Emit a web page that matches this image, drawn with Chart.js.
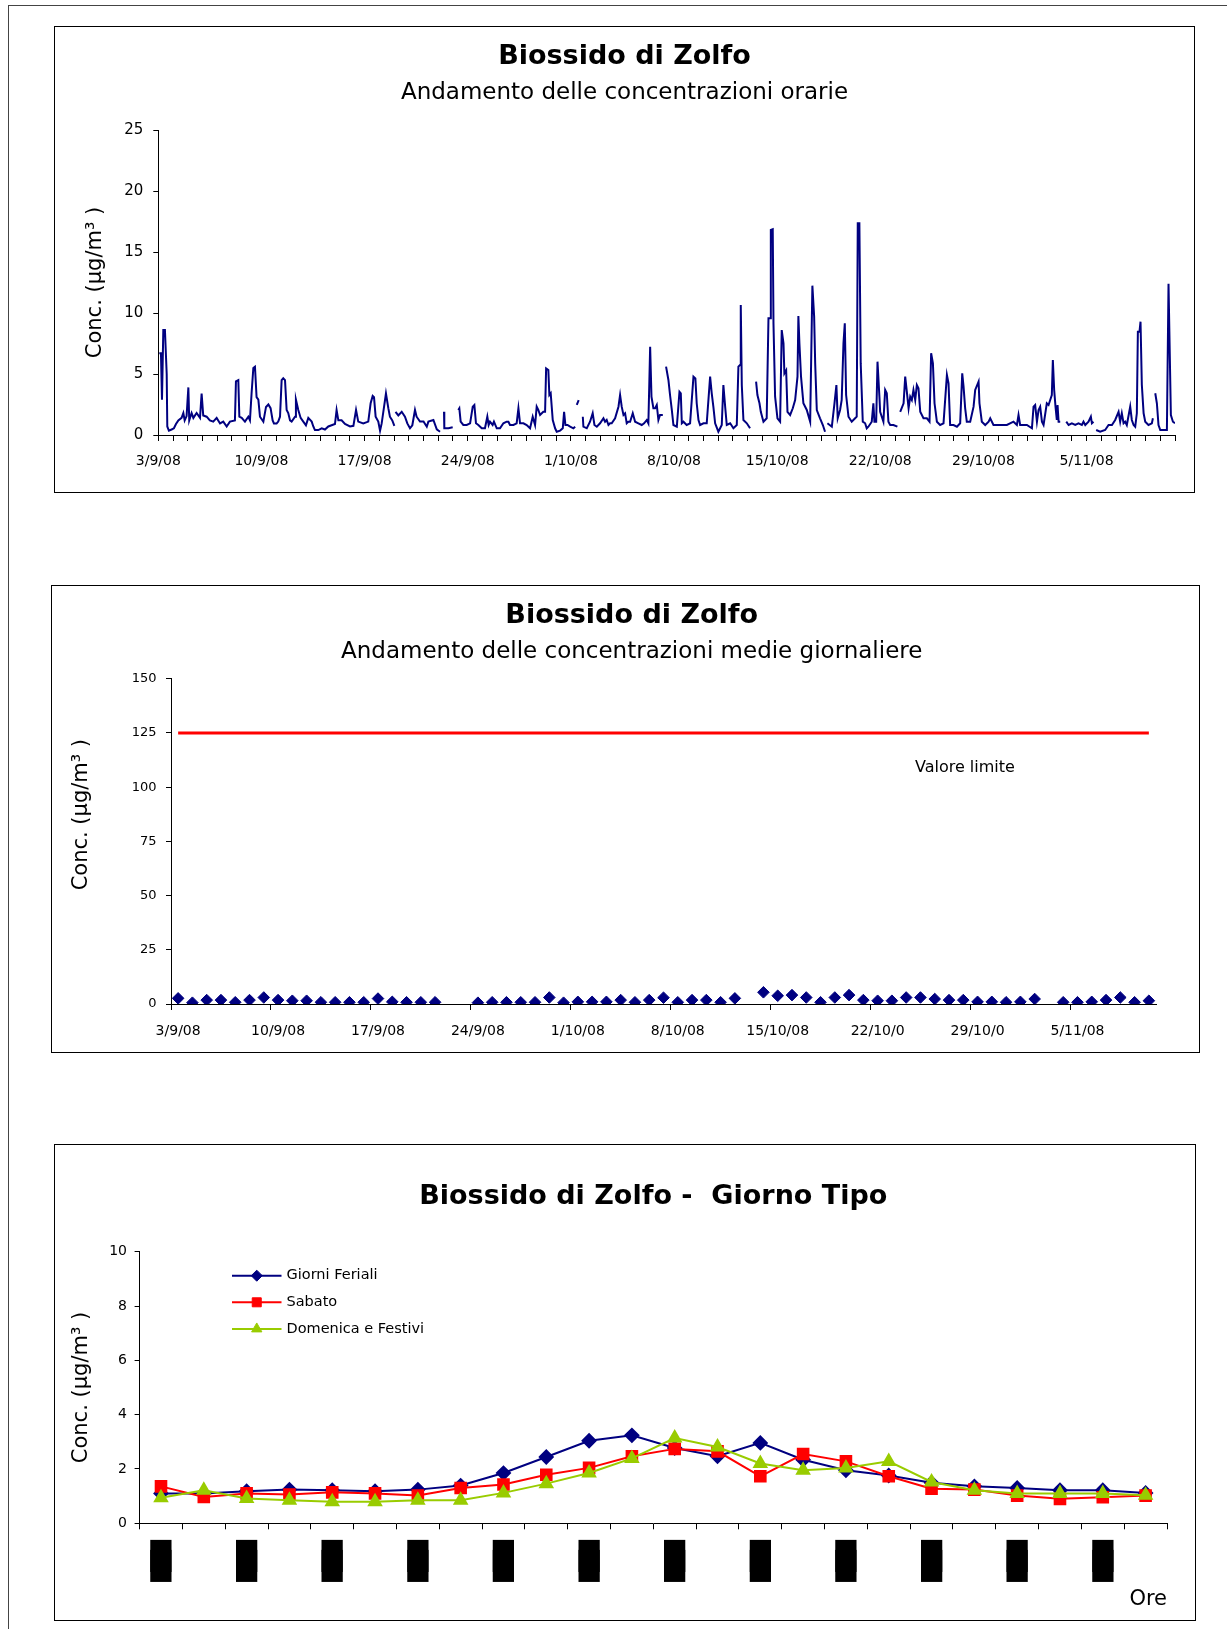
<!DOCTYPE html>
<html>
<head>
<meta charset="utf-8">
<script src="https://cdn.jsdelivr.net/npm/chart.js@4/dist/chart.umd.min.js"></script>
<style>
  html, body { margin: 0; padding: 0; background: #fff; }
  body { width: 1227px; height: 1629px; position: relative; overflow: hidden; }
  .pagina { position: absolute; left: 8px; top: 5px; width: 1240px; height: 1640px;
            border-left: 1px solid #444; border-top: 1px solid #444; }
  .riquadro { position: absolute; border: 1px solid #000; box-sizing: border-box; background: #fff; }
  .riquadro canvas { position: absolute; left: 0; top: 0; }
</style>
</head>
<body>
<div class="pagina"></div>
<div class="riquadro" style="left:54px; top:26px; width:1141px; height:467px;">
  <canvas id="orarie" width="1139" height="465"></canvas>
</div>
<div class="riquadro" style="left:51px; top:585px; width:1149px; height:468px;">
  <canvas id="giornaliere" width="1147" height="466"></canvas>
</div>
<div class="riquadro" style="left:54px; top:1144px; width:1142px; height:477px;">
  <canvas id="giornoTipo" width="1140" height="475"></canvas>
</div>

<script>
// ---------- Dati ----------

// Concentrazioni orarie SO2: [giorni trascorsi dal 3/9/08 00:00, µg/m³]; null = dato mancante
const misureOrarie = [
  [0.07,6.7],[0.18,6.7],[0.25,2.9],[0.34,8.6],[0.45,8.6],[0.57,5.0],[0.61,0.7],[0.72,0.35],[0.9,0.45],[1.06,0.55],
  [1.2,0.9],[1.36,1.2],[1.58,1.4],[1.7,1.8],[1.79,1.2],[1.92,1.55],[2.04,3.9],[2.1,1.2],[2.26,1.8],[2.38,1.4],
  [2.6,1.8],[2.83,1.4],[2.94,3.4],[3.05,1.6],[3.28,1.5],[3.5,1.2],[3.73,1.1],[3.96,1.4],[4.19,0.95],[4.41,1.1],
  [4.64,0.7],[4.86,1.1],[5.2,1.2],[5.27,4.4],[5.43,4.5],[5.5,1.5],[5.66,1.4],[5.88,1.1],[6.11,1.5],[6.22,1.2],
  [6.33,3.4],[6.45,5.5],[6.56,5.6],[6.67,3.1],[6.79,2.9],[6.9,1.5],[7.13,1.1],[7.31,2.3],[7.47,2.5],[7.62,2.2],
  [7.76,1.2],[7.85,0.95],[8.03,0.95],[8.14,1.1],[8.26,1.5],[8.37,4.5],[8.48,4.65],[8.6,4.5],[8.71,2.05],[8.82,1.8],
  [8.94,1.2],[9.05,1.1],[9.28,1.5],[9.34,2.9],[9.5,2.05],[9.66,1.4],[9.84,1.1],[10.02,0.8],[10.18,1.4],[10.41,1.1],
  [10.52,0.7],[10.63,0.4],[10.86,0.4],[11.09,0.55],[11.31,0.45],[11.54,0.7],[11.76,0.8],[11.99,0.9],[12.1,2.05],[12.22,1.2],
  [12.44,1.2],[12.67,0.9],[13.01,0.7],[13.24,0.75],[13.42,2.05],[13.57,1.1],[13.91,0.95],[14.25,1.1],[14.41,2.6],[14.55,3.2],
  [14.64,3.1],[14.75,1.5],[14.93,1.1],[15.05,0.35],[15.16,0.95],[15.32,2.3],[15.45,3.4],[15.61,2.2],[15.72,1.5],[15.88,1.2],
  [16.02,0.75],[16.06,null],[16.1,1.9],[16.29,1.6],[16.52,1.9],[16.74,1.5],[16.9,0.95],[17.08,0.55],[17.24,0.8],[17.42,2.05],
  [17.53,1.5],[17.76,1.1],[18.0,1.1],[18.22,0.68],[18.33,1.1],[18.67,1.23],[18.9,0.46],[19.12,0.27],[19.25,null],[19.39,1.9],
  [19.41,0.55],[19.69,0.55],[19.98,0.63],[20.2,null],[20.36,2.05],[20.43,2.19],[20.52,1.09],[20.7,0.82],[20.93,0.82],[21.16,0.96],
  [21.34,2.32],[21.45,2.46],[21.56,0.96],[21.72,0.82],[21.95,0.55],[22.17,0.55],[22.33,1.5],[22.42,0.82],[22.51,1.09],[22.69,0.82],
  [22.78,1.09],[22.97,0.55],[23.19,0.55],[23.42,0.96],[23.64,1.09],[23.76,1.09],[23.87,0.82],[24.1,0.82],[24.32,0.96],[24.44,2.19],
  [24.55,0.96],[24.78,0.96],[25.0,0.82],[25.23,0.55],[25.41,1.5],[25.57,0.82],[25.68,2.32],[25.79,2.05],[25.91,1.64],[26.13,1.9],
  [26.25,1.9],[26.32,5.46],[26.47,5.33],[26.54,3.28],[26.63,3.42],[26.77,1.23],[26.93,0.55],[27.04,0.27],[27.27,0.36],[27.45,0.55],
  [27.54,1.9],[27.63,0.82],[27.77,0.82],[27.95,0.68],[28.17,0.55],[28.29,0.68],[28.34,null],[28.4,2.46],[28.53,2.85],[28.65,null],
  [28.81,1.5],[28.85,0.68],[29.08,0.55],[29.3,1.09],[29.48,1.78],[29.6,0.82],[29.76,0.68],[29.98,0.96],[30.21,1.37],[30.32,1.09],
  [30.43,1.23],[30.55,0.82],[30.66,0.96],[30.77,0.96],[31.0,1.37],[31.23,2.32],[31.34,3.28],[31.45,2.32],[31.57,1.64],[31.68,1.78],
  [31.79,0.96],[31.9,1.09],[32.02,1.09],[32.2,1.78],[32.36,1.09],[32.58,0.96],[32.81,0.82],[32.97,0.96],[33.15,1.23],[33.26,0.96],
  [33.38,7.24],[33.47,3.14],[33.6,2.19],[33.72,2.19],[33.83,2.46],[33.94,1.23],[34.05,1.64],[34.24,1.64],[34.35,null],[34.46,5.6],
  [34.62,4.51],[34.73,3.28],[34.85,2.05],[34.96,0.82],[35.19,0.68],[35.37,3.55],[35.46,3.42],[35.53,0.96],[35.64,1.09],[35.86,0.82],
  [36.09,0.96],[36.32,4.78],[36.45,4.64],[36.54,2.6],[36.66,1.23],[36.77,0.82],[37.0,0.96],[37.22,0.96],[37.45,4.78],[37.56,3.42],
  [37.67,2.32],[37.79,0.96],[38.01,0.27],[38.24,0.82],[38.35,4.1],[38.47,2.32],[38.58,0.82],[38.81,0.96],[39.03,0.55],[39.26,0.82],
  [39.37,5.6],[39.48,5.74],[39.53,10.66],[39.6,4.1],[39.71,1.23],[39.94,0.96],[40.16,0.55],[40.35,null],[40.57,4.37],[40.66,3.28],
  [40.8,2.6],[40.89,1.9],[41.07,1.09],[41.29,1.37],[41.41,9.56],[41.52,9.56],[41.57,16.8],[41.7,16.86],[41.75,9.15],[41.86,3.14],
  [42.02,1.37],[42.2,1.09],[42.31,8.6],[42.43,7.51],[42.49,5.05],[42.61,5.3],[42.7,1.9],[42.88,1.64],[43.06,2.19],[43.22,2.87],
  [43.38,4.78],[43.44,9.75],[43.51,7.51],[43.62,4.78],[43.78,2.6],[44.01,2.05],[44.24,1.09],[44.39,12.24],[44.51,9.7],[44.58,5.87],
  [44.69,2.05],[44.91,1.37],[45.1,0.82],[45.25,0.27],[45.33,null],[45.41,0.96],[45.71,0.68],[45.89,2.6],[46.02,4.1],[46.11,1.37],
  [46.27,2.05],[46.38,2.87],[46.5,7.51],[46.59,9.15],[46.68,3.28],[46.84,1.5],[47.06,1.09],[47.29,1.37],[47.4,1.5],[47.47,17.35],
  [47.58,17.35],[47.67,5.87],[47.81,1.09],[47.97,0.96],[48.08,0.55],[48.19,0.68],[48.42,1.09],[48.53,2.6],[48.6,1.09],[48.72,1.09],
  [48.81,6.01],[48.94,3.14],[48.99,1.9],[49.1,1.5],[49.21,1.09],[49.33,3.69],[49.44,3.42],[49.55,1.09],[49.67,0.82],[49.89,0.82],
  [50.16,0.68],[50.25,null],[50.35,1.9],[50.58,2.6],[50.69,4.78],[50.8,3.55],[50.92,2.19],[51.03,3.14],[51.14,2.87],[51.25,3.69],
  [51.37,2.87],[51.48,4.1],[51.59,3.83],[51.71,1.9],[51.93,1.37],[52.16,1.37],[52.34,1.09],[52.45,6.7],[52.57,5.87],[52.68,2.6],
  [52.84,1.09],[53.06,0.82],[53.29,0.96],[53.52,4.92],[53.63,4.23],[53.74,0.82],[53.97,0.82],[54.2,0.68],[54.42,0.96],[54.56,5.05],
  [54.65,3.96],[54.76,2.19],[54.87,1.09],[55.1,1.09],[55.33,2.32],[55.44,3.69],[55.67,4.37],[55.73,2.6],[55.89,1.09],[56.12,0.82],
  [56.35,1.09],[56.46,1.37],[56.68,0.82],[57.14,0.82],[57.59,0.82],[58.04,1.09],[58.27,0.82],[58.38,1.64],[58.49,0.82],[58.95,0.82],
  [59.29,0.55],[59.4,2.32],[59.51,2.46],[59.63,1.09],[59.74,2.05],[59.85,2.32],[59.97,1.09],[60.08,0.82],[60.3,2.6],[60.42,2.46],
  [60.53,2.87],[60.64,3.28],[60.71,6.15],[60.8,3.69],[60.89,2.32],[60.98,1.23],[61.03,2.46],[61.1,1.09],[61.21,1.09],[61.4,null],
  [61.62,1.09],[61.78,0.82],[62.0,0.96],[62.23,0.82],[62.45,0.96],[62.68,0.82],[62.79,1.09],[62.91,0.82],[63.13,1.09],[63.29,1.5],
  [63.36,0.96],[63.47,1.09],[63.56,null],[63.65,0.41],[63.92,0.27],[64.26,0.41],[64.49,0.82],[64.72,0.82],[64.94,1.23],[65.17,1.9],
  [65.28,1.09],[65.39,1.78],[65.51,0.96],[65.62,1.09],[65.73,0.82],[65.96,2.32],[66.07,1.23],[66.19,0.82],[66.3,0.68],[66.41,1.78],
  [66.48,8.47],[66.59,8.47],[66.66,9.29],[66.75,4.1],[66.87,1.78],[66.98,1.09],[67.2,0.82],[67.43,0.96],[67.5,1.37],[67.58,null],
  [67.66,3.42],[67.77,2.6],[67.88,0.82],[68.0,0.41],[68.22,0.41],[68.45,0.41],[68.56,12.4],[68.72,1.64],[68.86,1.09],[69.0,0.96]
];
// Etichette dell'asse dei tempi (una ogni 7 giorni)
const etichetteSettimane = ['3/9/08','10/9/08','17/9/08','24/9/08','1/10/08','8/10/08','15/10/08','22/10/08','29/10/08','5/11/08'];

// Medie giornaliere SO2 (µg/m³), dal 3/9/08 al 10/11/08; null = giorno non valido
const medieGiornaliere = [
  2.6,0.6,1.8,1.8,0.8,1.8,3.0,1.8,1.5,1.5,0.8,0.8,0.8,0.8,2.5,1.0,0.8,0.8,0.8,null,
  null,0.6,0.8,0.8,0.8,0.8,3.0,0.6,1.0,1.0,1.0,1.8,0.8,1.8,2.9,0.8,1.8,1.8,0.8,2.6,
  null,5.4,3.8,4.1,3.0,0.8,3.0,4.1,1.8,1.5,1.5,3.0,3.0,2.3,1.8,1.8,1.0,1.0,0.8,1.0,
  2.3,null,0.8,0.8,1.0,1.8,3.0,0.8,1.5
];
const etichetteGiornaliere = ['3/9/08','10/9/08','17/9/08','24/9/08','1/10/08','8/10/08','15/10/08','22/10/0','29/10/0','5/11/08'];
const valoreLimite = 125;

// Giorno tipo: 24 ore
const giorniFeriali = [1.1,1.1,1.18,1.24,1.22,1.18,1.24,1.39,1.85,2.44,3.04,3.24,2.77,2.47,2.96,2.34,1.95,1.76,1.49,1.36,1.3,1.22,1.22,1.12];
const sabato        = [1.36,0.97,1.1,1.06,1.14,1.1,1.02,1.3,1.43,1.79,2.04,2.47,2.74,2.65,1.73,2.55,2.28,1.73,1.27,1.24,1.02,0.9,0.96,1.02];
const domenica      = [0.94,1.22,0.91,0.85,0.79,0.79,0.85,0.85,1.12,1.46,1.85,2.39,3.14,2.81,2.2,1.95,2.04,2.28,1.52,1.22,1.1,1.1,1.1,1.03];

// ---------- Costruzione ----------
const FONT = 'DejaVu Sans';
const NERO = '#000';
const BLU = '#000080';

// categorie giornaliere 3/9/08 ... 10/11/08
const giorni = [];
for (let d = new Date(2008, 8, 3); giorni.length < medieGiornaliere.length; d.setDate(d.getDate() + 1)) {
  giorni.push(d.getDate() + '/' + (d.getMonth() + 1) + '/08');
}
// etichette orarie: le ore pari sono stampate come blocchi pieni
const etichetteOre = giorniFeriali.map((_, i) => i % 2 === 0 ? ['\u2588', '\u2588'] : '');

const titolo = (text, top, bottom, fullSize = true) => ({
  display: true, text, color: NERO, fullSize,
  font: { family: FONT, size: 27, weight: 'bold' },
  padding: { top, bottom }
});
const sottotitolo = (text, top, bottom) => ({
  display: true, text, color: NERO,
  font: { family: FONT, size: 23, weight: 'normal' },
  padding: { top, bottom }
});
const titoloY = (text, pad) => ({
  display: true, text, color: NERO,
  font: { family: FONT, size: 21 },
  padding: { top: pad, bottom: 0 }
});
// margine destro dell'area del grafico (asse vuoto)
const margineDestro = (w) => ({
  type: 'linear', position: 'right', display: true, min: 0, max: 1,
  afterFit(s) { s.width = w; },
  grid: { display: false, drawTicks: false },
  border: { display: false },
  ticks: { display: false }
});

// scritte libere nell'area del grafico
const testoLibero = {
  id: 'testoLibero',
  afterDraw(chart, args, opts) {
    if (!opts.testi) return;
    const ctx = chart.ctx, a = chart.chartArea;
    ctx.save();
    for (const t of opts.testi) {
      ctx.font = t.size + 'px "' + FONT + '"';
      ctx.fillStyle = NERO;
      ctx.textAlign = 'center';
      ctx.textBaseline = 'middle';
      const x = a.left + t.fx * (a.right - a.left);
      const y = chart.scales.y.getPixelForValue(t.valore);
      ctx.fillText(t.testo, x, y);
    }
    ctx.restore();
  }
};

// legenda disegnata dentro l'area del grafico
const legendaInterna = {
  id: 'legendaInterna',
  afterDraw(chart, args, opts) {
    if (!opts.attiva) return;
    const ctx = chart.ctx, a = chart.chartArea;
    ctx.save();
    chart.data.datasets.forEach((ds, i) => {
      const y = a.top + opts.y0 + i * opts.passo;
      const x1 = a.left + opts.x0, x2 = x1 + opts.lunghezza;
      ctx.strokeStyle = ds.borderColor;
      ctx.lineWidth = ds.borderWidth;
      ctx.beginPath(); ctx.moveTo(x1, y); ctx.lineTo(x2, y); ctx.stroke();
      ctx.fillStyle = ds.pointBackgroundColor;
      ctx.strokeStyle = ds.pointBorderColor;
      ctx.lineWidth = 1;
      Chart.helpers.drawPoint(ctx, { pointStyle: ds.pointStyle, radius: ds.pointRadius * 0.85, rotation: 0, borderWidth: 1 }, (x1 + x2) / 2, y);
      ctx.fillStyle = NERO;
      ctx.font = opts.size + 'px "' + FONT + '"';
      ctx.textAlign = 'left';
      ctx.textBaseline = 'middle';
      ctx.fillText(ds.label, x2 + 5, y);
    });
    ctx.restore();
  }
};

Chart.register(testoLibero, legendaInterna);

const comuni = {
  responsive: false,
  animation: false,
  devicePixelRatio: 1,
  events: []
};

// ---- Grafico 1: concentrazioni orarie ----
new Chart(document.getElementById('orarie'), {
  type: 'line',
  data: {
    datasets: [{
      data: misureOrarie.map(([x, y]) => ({ x, y })),
      borderColor: BLU, borderWidth: 2, pointRadius: 0, tension: 0, spanGaps: false, fill: false
    }]
  },
  options: {
    ...comuni,
    layout: { padding: 0 },
    plugins: {
      legend: { display: false }, tooltip: { enabled: false },
      title: titolo('Biossido di Zolfo', 13.8, 0),
      subtitle: sottotitolo('Andamento delle concentrazioni orarie', 5.7, 23.5)
    },
    scales: {
      x: {
        type: 'linear', min: 0, max: 69,
        afterFit(s) { s.height = 57; },
        border: { color: NERO, width: 1 },
        grid: { drawOnChartArea: false, color: NERO, tickLength: 6 },
        ticks: {
          stepSize: 1, maxTicksLimit: 200, autoSkip: false, maxRotation: 0, padding: 12,
          color: NERO, font: { family: FONT, size: 14 },
          callback: (v) => { const n = Math.round(v); return n % 7 === 0 ? (etichetteSettimane[n / 7] || '') : ''; }
        }
      },
      y: {
        min: 0, max: 25,
        afterFit(s) { s.width = 103.3; },
        border: { color: NERO, width: 1 },
        grid: { drawOnChartArea: false, color: NERO, tickLength: 5 },
        ticks: { stepSize: 5, padding: 10, color: NERO, font: { family: FONT, size: 15 } },
        title: titoloY('Conc. (µg/m³ )', 28.4)
      },
      destra: margineDestro(19)
    }
  }
});

// ---- Grafico 2: medie giornaliere ----
new Chart(document.getElementById('giornaliere'), {
  type: 'line',
  data: {
    labels: giorni,
    datasets: [
      {
        label: 'Valore limite',
        data: [{ x: giorni[0], y: valoreLimite }, { x: giorni[giorni.length - 1], y: valoreLimite }],
        borderColor: '#FF0000', borderWidth: 3, pointRadius: 0, tension: 0, fill: false
      },
      {
        label: 'Media giornaliera',
        data: medieGiornaliere,
        showLine: false, pointStyle: 'rectRot', pointRadius: 5.8,
        pointBackgroundColor: BLU, pointBorderColor: BLU, borderColor: BLU
      }
    ]
  },
  options: {
    ...comuni,
    layout: { padding: { left: 12.4, right: 0, top: 0, bottom: 0 } },
    plugins: {
      legend: { display: false }, tooltip: { enabled: false },
      title: titolo('Biossido di Zolfo', 14.1, 0),
      subtitle: sottotitolo('Andamento delle concentrazioni medie giornaliere', 5.7, 12.9),
      testoLibero: { testi: [{ testo: 'Valore limite', fx: 0.806, valore: 109, size: 16 }] }
    },
    scales: {
      x: {
        type: 'category', offset: true,
        afterFit(s) { s.height = 48; },
        border: { color: NERO, width: 1 },
        grid: {
          offset: true, drawOnChartArea: false, tickLength: 6,
          color: (c) => (c.index % 7 === 0 ? NERO : 'rgba(0,0,0,0)')
        },
        ticks: {
          autoSkip: false, maxRotation: 0, padding: 13, color: NERO, font: { family: FONT, size: 14 },
          callback: (v, i) => (i % 7 === 0 ? (etichetteGiornaliere[i / 7] || '') : '')
        }
      },
      y: {
        min: 0, max: 150,
        afterFit(s) { s.width = 106.6; },
        border: { color: NERO, width: 1 },
        grid: { drawOnChartArea: false, color: NERO, tickLength: 5 },
        ticks: { stepSize: 25, padding: 9.5, color: NERO, font: { family: FONT, size: 13 } },
        title: titoloY('        Conc. (µg/m³ )', 5.0)
      },
      destra: margineDestro(43)
    }
  }
});

// ---- Grafico 3: giorno tipo ----
new Chart(document.getElementById('giornoTipo'), {
  type: 'line',
  data: {
    labels: etichetteOre,
    datasets: [
      {
        label: 'Giorni Feriali', data: giorniFeriali, order: 2,
        borderColor: BLU, borderWidth: 2, tension: 0,
        pointStyle: 'rectRot', pointRadius: 6.5, pointBackgroundColor: BLU, pointBorderColor: BLU
      },
      {
        label: 'Sabato', data: sabato, order: 1,
        borderColor: '#FF0000', borderWidth: 2, tension: 0,
        pointStyle: 'rect', pointRadius: 7.5, pointBackgroundColor: '#FF0000', pointBorderColor: '#FF0000'
      },
      {
        label: 'Domenica e Festivi', data: domenica, order: 0,
        borderColor: '#99CC00', borderWidth: 2, tension: 0,
        pointStyle: 'triangle', pointRadius: 7, pointBackgroundColor: '#99CC00', pointBorderColor: '#99CC00'
      }
    ]
  },
  options: {
    ...comuni,
    layout: { padding: { left: 0, right: 28, top: 0, bottom: 0 } },
    plugins: {
      legend: { display: false }, tooltip: { enabled: false },
      title: titolo('Biossido di Zolfo -  Giorno Tipo', 35.8, 38.5, false),
      legendaInterna: { attiva: true, x0: 92.4, lunghezza: 49.5, y0: 24, passo: 26.6, size: 14.5 }
    },
    scales: {
      x: {
        type: 'category', offset: true,
        afterFit(s) { s.height = 96.7; },
        border: { color: NERO, width: 1 },
        grid: { offset: true, drawOnChartArea: false, color: NERO, tickLength: 6 },
        ticks: {
          autoSkip: false, maxRotation: 0, padding: 24.2, color: NERO,
          font: { family: FONT, size: 27, lineHeight: 0.356 }
        },
        title: {
          display: true, text: 'Ore', align: 'end', color: NERO,
          font: { family: FONT, size: 21 }, padding: { top: 0, bottom: 7.5 }
        }
      },
      y: {
        min: 0, max: 10,
        afterFit(s) { s.width = 84.6; },
        border: { color: NERO, width: 1 },
        grid: { drawOnChartArea: false, color: NERO, tickLength: 5 },
        ticks: { stepSize: 2, padding: 7.6, color: NERO, font: { family: FONT, size: 14 } },
        title: titoloY('Conc. (µg/m³ )', 14.4)
      }
    }
  }
});
</script>
</body>
</html>
